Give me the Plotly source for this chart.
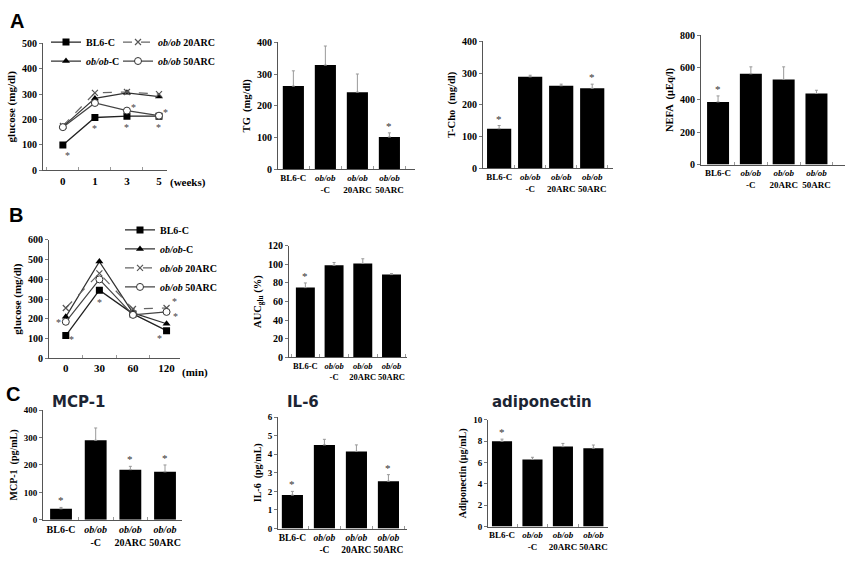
import plotly.graph_objects as go

W, H = 852, 561
SERIF = "Liberation Serif"
SANS = "DejaVu Sans"

# ---------------- data ----------------
groups = ["BL6-C", "<i>ob/ob</i><br>-C", "<i>ob/ob</i><br>20ARC", "<i>ob/ob</i><br>50ARC"]
series_names = ["BL6-C", "<i>ob/ob</i>-C", "<i>ob/ob</i> 20ARC", "<i>ob/ob</i> 50ARC"]

weeks = ["0", "1", "3", "5"]
gluA_bl6 = [100, 208, 213, 213]
gluA_obc = [172, 283, 305, 290]
gluA_20 = [175, 305, 308, 300]
gluA_50 = [170, 265, 235, 215]

minutes = ["0", "30", "60", "120"]
gluB_bl6 = [115, 345, 225, 140]
gluB_obc = [210, 490, 230, 175]
gluB_20 = [255, 430, 250, 255]
gluB_50 = [185, 400, 220, 235]

tg_mean = [262, 328, 243, 102]
tg_err = [48, 60, 57, 13]
tg_sig = [False, False, False, True]

tcho_mean = [125, 288, 260, 252]
tcho_err = [10, 5, 5, 13]
tcho_sig = [True, False, False, True]

nefa_mean = [388, 562, 527, 440]
nefa_err = [37, 43, 78, 20]
nefa_sig = [True, False, False, False]

auc_mean = [75, 99, 101, 89]
auc_err = [5, 3, 5, 1]
auc_sig = [True, False, False, False]

mcp_mean = [40, 290, 183, 175]
mcp_err = [5, 45, 12, 25]
mcp_sig = [True, False, True, True]

il6_mean = [1.8, 4.5, 4.15, 2.55]
il6_err = [0.2, 0.3, 0.35, 0.35]
il6_sig = [True, False, False, True]

adipo_mean = [8.0, 6.3, 7.5, 7.35]
adipo_err = [0.2, 0.2, 0.3, 0.3]
adipo_sig = [True, False, False, False]

# ---------------- layout helpers ----------------
fig = go.Figure()
layout = dict(
    width=W, height=H, margin=dict(l=0, r=0, t=0, b=0),
    paper_bgcolor="white", plot_bgcolor="white", showlegend=True,
    font=dict(family=SERIF, color="black"),
)
annotations = []


def ax_keys(i):
    return ("xaxis" if i == 1 else f"xaxis{i}", "yaxis" if i == 1 else f"yaxis{i}",
            "x" if i == 1 else f"x{i}", "y" if i == 1 else f"y{i}")


def setup_axes(i, x0, x1, yt, yb, xrange, yrange, dtick, ytitle, tick_size=10, xtick_size=9,
               title_size=10.5, standoff=4):
    xk, yk, xr, yr = ax_keys(i)
    layout[xk] = dict(
        domain=[x0 / W, x1 / W], anchor=yr, type="category", range=xrange,
        showline=True, linecolor="#555", linewidth=1, showgrid=False, zeroline=False,
        ticks="inside", tickson="boundaries", ticklen=3, tickcolor="#999", tickangle=0,
        tickfont=dict(family=SERIF, size=xtick_size, color="black", weight="bold"),
        fixedrange=True,
    )
    layout[yk] = dict(
        domain=[1 - yb / H, 1 - yt / H], anchor=xr, range=yrange, dtick=dtick,
        showline=True, linecolor="#555", linewidth=1, showgrid=False, zeroline=False,
        ticks="outside", ticklen=3, tickcolor="#777",
        tickfont=dict(family=SERIF, size=tick_size, color="black", weight="bold"),
        title=dict(text=ytitle, font=dict(family=SERIF, size=title_size, color="black", weight="bold"),
                   standoff=standoff),
        fixedrange=True,
    )
    return xr, yr


def bar_panel(i, x0, x1, yt, yb, xrange, yrange, dtick, ytitle, mean, err, sig, width,
              tick_size=10, xtick_size=9, title_size=10.5, standoff=4):
    xr, yr = setup_axes(i, x0, x1, yt, yb, xrange, yrange, dtick, ytitle, tick_size,
                        xtick_size, title_size, standoff)
    fig.add_trace(go.Bar(
        x=groups, y=mean, width=width, marker=dict(color="black", line=dict(width=0)),
        error_y=dict(type="data", array=err, arrayminus=[0] * len(err), symmetric=False,
                     color="#999", thickness=1, width=1.5),
        xaxis=xr, yaxis=yr, showlegend=False, hoverinfo="skip",
    ))
    for k, s in enumerate(sig):
        if s:
            annotations.append(dict(
                x=k, y=mean[k] + err[k], xref=xr, yref=yr, text="*", showarrow=False,
                yanchor="bottom", yshift=-1, font=dict(family=SERIF, size=11, color="#333")))


# ---------------- Panel A : glucose (weeks) ----------------
xr, yr = setup_axes(1, 43, 167, 38, 168, [-0.62, 3.25], [0, 500], 100, "glucose (mg/dl)",
                    tick_size=10, xtick_size=11, title_size=11)
styles = [
    dict(symbol="square", size=7, color="black", line=dict(width=0)),
    dict(symbol="triangle-up", size=7, color="black", line=dict(width=0)),
    dict(symbol="x-thin", size=6, color="#555", line=dict(width=1.2, color="#555")),
    dict(symbol="circle", size=7, color="white", line=dict(width=1, color="#333")),
]
line_styles = [
    dict(color="#222", width=1.3),
    dict(color="#333", width=1.2),
    dict(color="#666", width=1.2, dash="dash"),
    dict(color="#444", width=1.2),
]
legA = ["legend", "legend", "legend2", "legend2"]
for name, ys, ms, ls, lg in zip(series_names, [gluA_bl6, gluA_obc, gluA_20, gluA_50], styles,
                                line_styles, legA):
    fig.add_trace(go.Scatter(x=weeks, y=ys, mode="lines+markers", name=name, marker=ms, line=ls,
                             xaxis=xr, yaxis=yr, legend=lg, hoverinfo="skip"))
# significance marks, panel A
for k in range(4):
    annotations.append(dict(x=k, y=gluA_bl6[k], xref=xr, yref=yr, text="*", showarrow=False,
                            yshift=-11, xshift=5 if k == 0 else 0,
                            font=dict(family=SERIF, size=10, color="#444")))
for k in [2, 3]:
    annotations.append(dict(x=k, y=gluA_50[k], xref=xr, yref=yr, text="*", showarrow=False,
                            xshift=7, yshift=3, font=dict(family=SERIF, size=10, color="#444")))
annotations.append(dict(x=188 / W, y=1 - 180 / H, xref="paper", yref="paper", text="(weeks)",
                        showarrow=False, xanchor="center", yanchor="middle",
                        font=dict(family=SERIF, size=11, color="black", weight="bold")))

# ---------------- Panel A bars ----------------
bar_panel(2, 278, 415, 37, 167, [-0.48, 3.8], [0, 400], 100, "TG  (mg/dl)", tg_mean, tg_err,
          tg_sig, 0.66)
bar_panel(3, 483, 613, 36, 166, [-0.52, 3.67], [0, 400], 100, "T-Cho  (mg/dl)", tcho_mean,
          tcho_err, tcho_sig, 0.78)
bar_panel(4, 701, 845, 30, 162, [-0.52, 3.87], [0, 800], 200, "NEFA  (μEq/l)", nefa_mean,
          nefa_err, nefa_sig, 0.67)

# ---------------- Panel B : OGTT ----------------
xr, yr = setup_axes(5, 49, 180, 239, 360, [-0.5, 3.4], [0, 600], 100, "glucose (mg/dl)",
                    tick_size=10, xtick_size=11, title_size=11)
for name, ys, ms, ls in zip(series_names, [gluB_bl6, gluB_obc, gluB_20, gluB_50], styles,
                            line_styles):
    fig.add_trace(go.Scatter(x=minutes, y=ys, mode="lines+markers", name=name, marker=ms, line=ls,
                             xaxis=xr, yaxis=yr, legend="legend3", hoverinfo="skip"))
for k, dx, dy in [(0, 6, -4), (1, 0, -12), (3, -7, -8)]:
    annotations.append(dict(x=k, y=gluB_bl6[k], xref=xr, yref=yr, text="*", showarrow=False,
                            xshift=dx, yshift=dy, font=dict(family=SERIF, size=10, color="#444")))
for ys, k, dx, dy in [(gluB_50, 0, -7, -1), (gluB_20, 3, 8, 6), (gluB_50, 3, 9, -5)]:
    annotations.append(dict(x=k, y=ys[k], xref=xr, yref=yr, text="*", showarrow=False,
                            xshift=dx, yshift=dy, font=dict(family=SERIF, size=10, color="#444")))
annotations.append(dict(x=195 / W, y=1 - 374 / H, xref="paper", yref="paper", text="(min)",
                        showarrow=False, xanchor="center", yanchor="middle",
                        font=dict(family=SERIF, size=11, color="black", weight="bold")))

bar_panel(6, 289, 407, 245, 359, [-0.57, 3.54], [0, 120], 20, "AUC<sub>glu</sub> (%)", auc_mean,
          auc_err, auc_sig, 0.66, xtick_size=8.5)

# ---------------- Panel C ----------------
bar_panel(7, 43, 182, 413, 525, [-0.52, 3.49], [0, 400], 100, "MCP-1  (pg/mL)", mcp_mean,
          mcp_err, mcp_sig, 0.63, tick_size=9, xtick_size=10, title_size=10)
bar_panel(8, 278, 407, 420, 534, [-0.45, 3.58], [0, 6], 1, "IL-6  (pg/mL)", il6_mean, il6_err,
          il6_sig, 0.66, tick_size=9, xtick_size=9.5, title_size=10)
bar_panel(9, 488, 608, 423, 532, [-0.46, 3.48], [0, 10], 2, "Adiponectin (μg/mL)", adipo_mean,
          adipo_err, adipo_sig, 0.66, tick_size=9, xtick_size=9, title_size=10)

# titles of panel C
for txt, x in [("MCP-1", 50), ("IL-6", 285), ("adiponectin", 490)]:
    annotations.append(dict(x=x / W, y=1 - 405 / H, xref="paper", yref="paper", text=txt,
                            showarrow=False, xanchor="left", yanchor="middle",
                            font=dict(family=SANS, size=15, color="#1c2533", weight="bold")))

# panel letters
for txt, x, y in [("A", 8, 15), ("B", 7, 214), ("C", 4, 396)]:
    annotations.append(dict(x=x / W, y=1 - y / H, xref="paper", yref="paper", text=txt,
                            showarrow=False, xanchor="left", yanchor="middle",
                            font=dict(family="Liberation Sans", size=20, color="black",
                                      weight="bold")))

legfont = dict(family=SERIF, size=10, color="black", weight="bold")
layout["legend"] = dict(x=46 / W, y=1 - 22 / H, xanchor="left", yanchor="top", font=legfont,
                        bgcolor="rgba(0,0,0,0)", tracegroupgap=0, itemwidth=30)
layout["legend2"] = dict(x=118 / W, y=1 - 22 / H, xanchor="left", yanchor="top", font=legfont,
                         bgcolor="rgba(0,0,0,0)", tracegroupgap=0, itemwidth=30)
layout["legend3"] = dict(x=120 / W, y=1 - 214 / H, xanchor="left", yanchor="top", font=legfont,
                         bgcolor="rgba(0,0,0,0)", tracegroupgap=0, itemwidth=30)
layout["annotations"] = annotations

fig.update_layout(**layout)
fig.write_html("out.html")
